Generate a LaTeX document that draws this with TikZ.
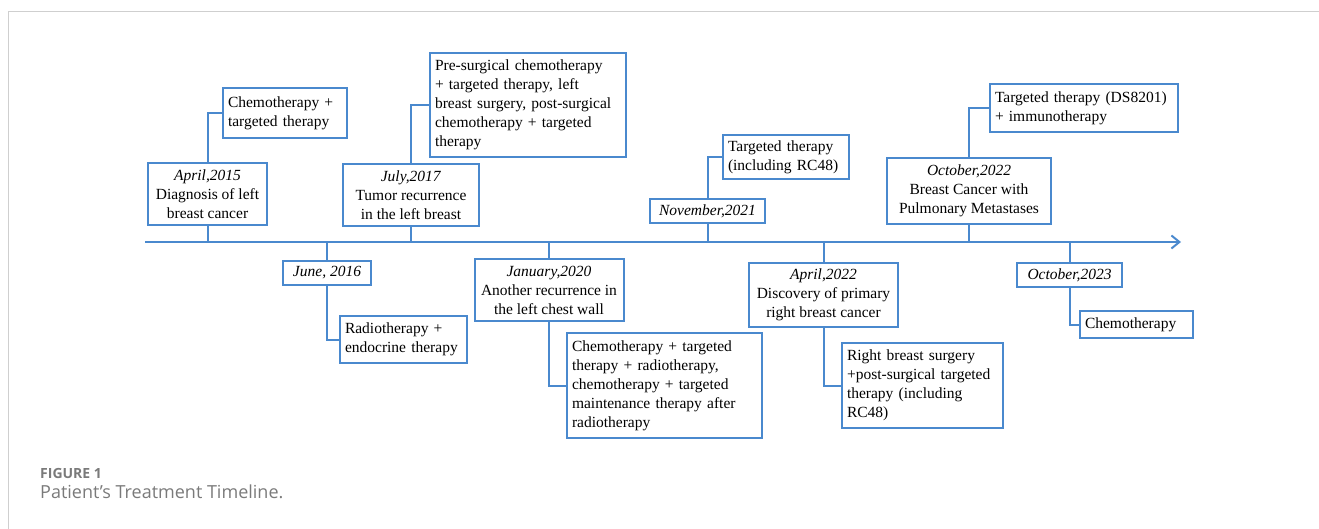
\documentclass[tikz,border=0pt]{standalone}
\usepackage{fontspec}
\setmainfont{Liberation Serif}
\newfontfamily\capfont{Open Sans}
\usepackage{tikz}
\usetikzlibrary{arrows.meta,positioning,calc}
\definecolor{tlblue}{HTML}{4A89CE}
\definecolor{capgray}{HTML}{7A7A7A}
\definecolor{framegray}{HTML}{CFCFCF}

\begin{document}
\begin{tikzpicture}[x=1pt, y=-1pt,
  datebox/.style={draw=tlblue, line width=2pt, fill=white, align=center,
                  font=\fontsize{15.5}{19}\selectfont, inner sep=2pt},
  therbox/.style={draw=tlblue, line width=2pt, fill=white, align=left, anchor=west,
                  font=\fontsize{15.5}{19}\selectfont, inner xsep=5pt, inner ysep=2pt},
  link/.style={draw=tlblue, line width=2pt},
  axisline/.style={draw=tlblue, line width=2pt, -{Straight Barb[length=8pt, width=13pt, line width=2pt]}}
]
  \useasboundingbox (0,0) rectangle (1319,529);
  \draw[framegray, line width=1pt] (8,529) -- (8,12) -- (1319,12);

  \coordinate (ax0) at (145,242);
  \coordinate (ax1) at (1181,242);
  \draw[axisline] (ax0) -- (ax1);

  % above the axis
  \node[datebox, minimum width=119pt, minimum height=62pt] (d15) at (207.5,194)
    {\textit{April,2015}\\Diagnosis of left\\breast cancer};
  \node[datebox, minimum width=136pt, minimum height=62pt] (d17) at (411,195)
    {\textit{July,2017}\\Tumor recurrence\\in the left breast};
  \node[datebox, minimum width=115pt, minimum height=24pt] (d21) at (707.5,211)
    {\textit{November,2021}};
  \node[datebox, minimum width=164pt, minimum height=66pt] (d22o) at (969,191)
    {\textit{October,2022}\\Breast Cancer with\\Pulmonary Metastases};

  \node[therbox, text width=114pt, minimum height=50pt] (t15) at (222,113)
    {Chemotherapy +\\targeted therapy};
  \node[therbox, text width=186pt, minimum height=104pt] (t17) at (429,105)
    {Pre-surgical chemotherapy\\+ targeted therapy, left\\breast surgery, post-surgical\\chemotherapy + targeted\\therapy};
  \node[therbox, text width=116pt, minimum height=44pt] (t21) at (722,157)
    {Targeted therapy\\(including RC48)};
  \node[therbox, text width=178pt, minimum height=48pt] (t22o) at (989,108)
    {Targeted therapy (DS8201)\\+ immunotherapy};

  % below the axis
  \node[datebox, minimum width=88pt, minimum height=24pt] (d16) at (327,273)
    {\textit{June, 2016}};
  \node[datebox, minimum width=149pt, minimum height=62pt] (d20) at (549,290)
    {\textit{January,2020}\\Another recurrence in\\the left chest wall};
  \node[datebox, minimum width=149pt, minimum height=64pt] (d22a) at (823.5,295)
    {\textit{April,2022}\\Discovery of primary\\right breast cancer};
  \node[datebox, minimum width=105pt, minimum height=23pt] (d23) at (1069.5,275)
    {\textit{October,2023}};

  \node[therbox, text width=117pt, minimum height=47pt] (t16) at (339,339.5)
    {Radiotherapy +\\endocrine therapy};
  \node[therbox, text width=185pt, minimum height=105pt] (t20) at (566,385.5)
    {Chemotherapy + targeted\\therapy + radiotherapy,\\chemotherapy + targeted\\maintenance therapy after\\radiotherapy};
  \node[therbox, text width=151pt, minimum height=85pt] (t22a) at (841,385.5)
    {Right breast surgery\\+post-surgical targeted\\therapy (including\\RC48)};
  \node[therbox, text width=103pt, minimum height=27pt] (t23) at (1079,324.5)
    {Chemotherapy};

  \foreach \d in {d15,d17,d21,d22o}
    \draw[link] (\d.south) -- (\d.south |- ax0);
  \foreach \d in {d16,d20,d22a,d23}
    \draw[link] (\d.north) -- (\d.north |- ax0);

  \draw[link] (d15.north) |- (t15.west);
  \draw[link] (d17.north) |- (t17.west);
  \draw[link] (d21.north) |- (t21.west);
  \draw[link] (d22o.north) |- (t22o.west);
  \draw[link] (d16.south) |- (t16.west);
  \draw[link] (d20.south) |- (t20.west);
  \draw[link] (d22a.south) |- (t22a.west);
  \draw[link] (d23.south) |- (t23.west);

  \node[anchor=base west, inner sep=0pt, text=capgray, font=\capfont\bfseries\fontsize{14}{16}\selectfont] (fig) at (40,478) {FIGURE 1};
  \node[anchor=base west, inner sep=0pt, text=capgray, font=\capfont\fontsize{18}{21}\selectfont] (cap) at (40,498) {Patient’s Treatment Timeline.};
\end{tikzpicture}
\end{document}
